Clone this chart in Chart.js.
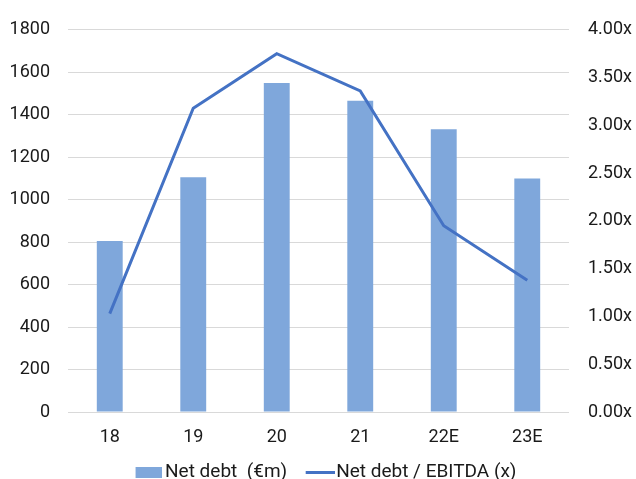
<!DOCTYPE html>
<html>
<head>
<meta charset="utf-8">
<script src="https://cdn.jsdelivr.net/npm/chart.js@4/dist/chart.umd.min.js"></script>
<style>
    html, body { margin: 0; padding: 0; background: #ffffff; }
    #chart { display: block; }
</style>
</head>
<body>
<canvas id="chart" width="636" height="479"></canvas>
<script>
// Net debt (bars, left axis) and leverage multiple (line, right axis)
const years = ['18', '19', '20', '21', '22E', '23E'];
const netDebt = [805, 1105, 1550, 1466, 1332, 1100];
const leverage = [1.03, 3.18, 3.75, 3.36, 1.95, 1.38];

const BAR_COLOR = '#7FA7DB';
const LINE_COLOR = '#4472C4';
const TEXT_COLOR = '#1a1a1a';
const GRID_COLOR = '#D9D9D9';
const FONT = { family: 'Roboto', size: 18 };
const LEGEND_FONT = { family: 'Roboto', size: 19 };

// Legend markers as small canvases; the mark is drawn off-centre so it
// sits close to its label (Chart.js leaves fontSize/2 before the text).
function makeMarker(w, h, draw) {
    const c = document.createElement('canvas');
    c.width = w;
    c.height = h;
    draw(c.getContext('2d'));
    return c;
}
const barMarker = makeMarker(42, 11, g => {
    g.fillStyle = BAR_COLOR;
    g.fillRect(16, 0, 26, 11);
});
const lineMarker = makeMarker(46, 11, g => {
    g.strokeStyle = LINE_COLOR;
    g.lineWidth = 3;
    g.beginPath();
    g.moveTo(17, 5.5);
    g.lineTo(46, 5.5);
    g.stroke();
});

// push the legend row down so it hugs the bottom edge, and let the
// category labels spill below their (squeezed) axis box without clipping
const LEGEND_SHIFT_Y = 13;
const LEGEND_SHIFT_X = 3;
const bottomTweak = {
    id: 'bottomTweak',
    afterLayout(chart) {
        const lg = chart.legend;
        if (lg) {
            lg.top += LEGEND_SHIFT_Y;
            lg.bottom += LEGEND_SHIFT_Y;
            lg.left += LEGEND_SHIFT_X;
            lg.right += LEGEND_SHIFT_X;
        }
        const x = chart.scales.x;
        x.bottom = x.top + 40;
    }
};

const ctx = document.getElementById('chart').getContext('2d');

new Chart(ctx, {
    type: 'bar',
    data: {
        labels: years,
        datasets: [
            {
                type: 'line',
                label: 'Net debt / EBITDA (x)',
                data: leverage,
                yAxisID: 'y1',
                borderColor: LINE_COLOR,
                backgroundColor: LINE_COLOR,
                borderWidth: 3,
                pointRadius: 0,
                tension: 0,
                order: 0
            },
            {
                label: 'Net debt  (€m)',
                data: netDebt,
                yAxisID: 'y',
                backgroundColor: BAR_COLOR,
                borderWidth: 0,
                categoryPercentage: 1,
                barPercentage: 0.31,
                order: 1
            }
        ]
    },
    plugins: [bottomTweak],
    options: {
        responsive: false,
        animation: false,
        layout: { padding: { top: 26, left: 0, right: 0, bottom: 0 } },
        plugins: {
            tooltip: { enabled: false },
            legend: {
                position: 'bottom',
                reverse: true,
                labels: {
                    color: TEXT_COLOR,
                    font: LEGEND_FONT,
                    usePointStyle: true,
                    pointStyleWidth: 30,
                    boxHeight: 11,
                    padding: 9.5,
                    generateLabels: function(chart) {
                        const items = Chart.defaults.plugins.legend.labels.generateLabels(chart);
                        items.forEach(item => {
                            const ds = chart.data.datasets[item.datasetIndex];
                            item.pointStyle = ds.type === 'line' ? lineMarker : barMarker;
                        });
                        return items;
                    }
                }
            }
        },
        scales: {
            x: {
                offset: true,
                grid: { display: false, drawTicks: false },
                border: { display: false },
                ticks: { color: TEXT_COLOR, font: FONT, padding: 15, autoSkip: false, maxRotation: 0 },
                afterFit: function(scale) { scale.height = 28.5; }
            },
            y: {
                position: 'left',
                min: 0,
                max: 1800,
                ticks: {
                    stepSize: 200,
                    color: TEXT_COLOR,
                    font: FONT,
                    padding: 18,
                    callback: v => String(v)
                },
                grid: { color: GRID_COLOR, lineWidth: 1, drawTicks: false },
                border: { display: false },
                afterFit: function(scale) { scale.width = 68; }
            },
            y1: {
                position: 'right',
                min: 0,
                max: 4,
                ticks: {
                    stepSize: 0.5,
                    color: TEXT_COLOR,
                    font: FONT,
                    padding: 19,
                    callback: v => v.toFixed(2) + 'x'
                },
                grid: { display: false, drawTicks: false },
                border: { display: false },
                afterFit: function(scale) { scale.width = 67; }
            }
        }
    }
});
</script>
</body>
</html>
